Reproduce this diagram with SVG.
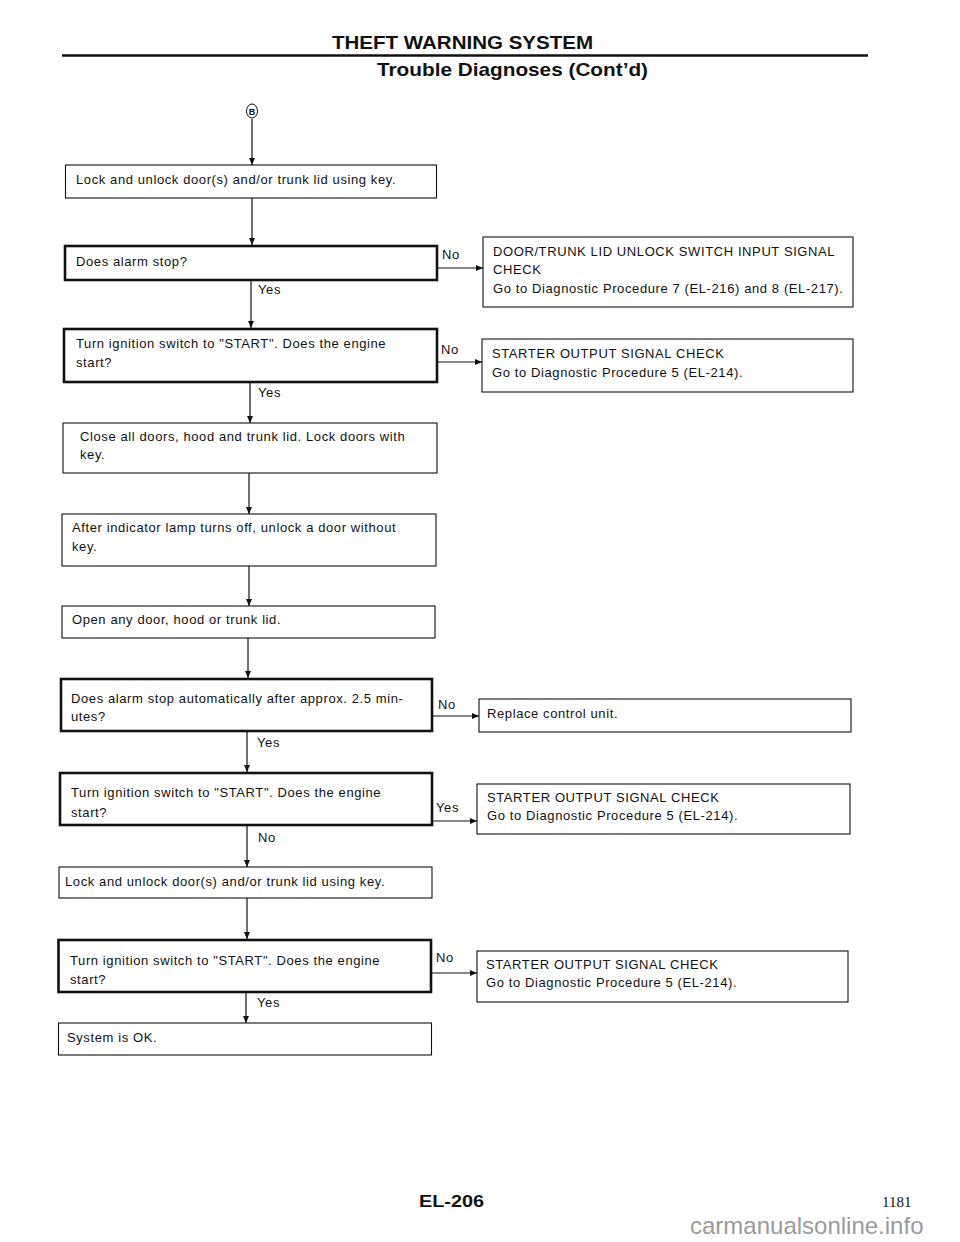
<svg xmlns="http://www.w3.org/2000/svg" width="960" height="1242" viewBox="0 0 960 1242">
<defs>
<style>
.t{font-family:"Liberation Sans",Arial,Helvetica,sans-serif;font-size:13px;letter-spacing:0.6px;fill:#111}
.box{fill:#fff;stroke:#111;stroke-width:1.1}
.dec{fill:#fff;stroke:#111;stroke-width:2.6}
.c{stroke:#111;stroke-width:1.2;fill:none;marker-end:url(#ah)}
.h{font-family:"Liberation Sans",Arial,Helvetica,sans-serif;font-weight:bold;fill:#111}
</style>
<marker id="ah" markerUnits="userSpaceOnUse" markerWidth="8" markerHeight="6" refX="7" refY="3" orient="auto">
<path d="M0,0 L7,3 L0,6 z" fill="#111"/>
</marker>
</defs>
<rect width="960" height="1242" fill="#fff"/>

<g id="header">
<text class="h" x="332" y="49" font-size="19" textLength="261" lengthAdjust="spacingAndGlyphs">THEFT WARNING SYSTEM</text>
<line x1="62" y1="55.5" x2="868" y2="55.5" stroke="#111" stroke-width="2.6"/>
<text class="h" x="377" y="76" font-size="19" textLength="271" lengthAdjust="spacingAndGlyphs">Trouble Diagnoses (Cont’d)</text>
</g>

<g id="start-B">
<ellipse cx="252" cy="111" rx="5.5" ry="7" fill="#fff" stroke="#111" stroke-width="1"/>
<text x="252" y="114.5" text-anchor="middle" font-family="Liberation Sans,Arial,sans-serif" font-size="9" font-weight="bold" fill="#111">B</text>
</g>

<g id="connectors">
<line class="c" x1="252" y1="119" x2="252" y2="165"/>
<line class="c" x1="252" y1="198" x2="252" y2="245"/>
<line class="c" x1="251" y1="281" x2="251" y2="328"/>
<line class="c" x1="250" y1="383" x2="250" y2="423"/>
<line class="c" x1="249" y1="473" x2="249" y2="514"/>
<line class="c" x1="249" y1="566" x2="249" y2="606"/>
<line class="c" x1="248" y1="638" x2="248" y2="678"/>
<line class="c" x1="247" y1="732" x2="247" y2="772"/>
<line class="c" x1="247" y1="826" x2="247" y2="867"/>
<line class="c" x1="247" y1="898" x2="247" y2="939"/>
<line class="c" x1="246" y1="993" x2="246" y2="1023"/>
<line class="c" x1="438" y1="268" x2="483" y2="268"/>
<line class="c" x1="438" y1="362" x2="482" y2="362"/>
<line class="c" x1="433" y1="716" x2="479" y2="716"/>
<line class="c" x1="433" y1="821" x2="477" y2="821"/>
<line class="c" x1="432" y1="973" x2="477" y2="973"/>
<text class="t" x="442" y="259">No</text>
<text class="t" x="258" y="294">Yes</text>
<text class="t" x="441" y="354">No</text>
<text class="t" x="258" y="397">Yes</text>
<text class="t" x="438" y="709">No</text>
<text class="t" x="257" y="747">Yes</text>
<text class="t" x="436" y="812">Yes</text>
<text class="t" x="258" y="842">No</text>
<text class="t" x="436" y="962">No</text>
<text class="t" x="257" y="1007">Yes</text>
</g>

<g id="n1">
<rect class="box" x="65.5" y="165" width="371" height="33"/>
<text class="t" x="76" y="184">Lock and unlock door(s) and/or trunk lid using key.</text>
</g>
<g id="n2">
<rect class="dec" x="65" y="246" width="372" height="34"/>
<text class="t" x="76" y="266">Does alarm stop?</text>
</g>
<g id="n3">
<rect class="dec" x="64" y="329" width="373" height="53"/>
<text class="t" x="76" y="348">Turn ignition switch to "START". Does the engine</text>
<text class="t" x="76" y="367">start?</text>
</g>
<g id="n4">
<rect class="box" x="63" y="423" width="374" height="50"/>
<text class="t" x="80" y="441">Close all doors, hood and trunk lid. Lock doors with</text>
<text class="t" x="80" y="459">key.</text>
</g>
<g id="n5">
<rect class="box" x="62" y="514" width="374" height="52"/>
<text class="t" x="72" y="532">After indicator lamp turns off, unlock a door without</text>
<text class="t" x="72" y="551">key.</text>
</g>
<g id="n6">
<rect class="box" x="62" y="606" width="373" height="32"/>
<text class="t" x="72" y="624">Open any door, hood or trunk lid.</text>
</g>
<g id="n7">
<rect class="dec" x="61" y="679" width="371" height="52"/>
<text class="t" x="71" y="703">Does alarm stop automatically after approx. 2.5 min-</text>
<text class="t" x="71" y="721">utes?</text>
</g>
<g id="n8">
<rect class="dec" x="60" y="773" width="372" height="52"/>
<text class="t" x="71" y="797">Turn ignition switch to "START". Does the engine</text>
<text class="t" x="71" y="817">start?</text>
</g>
<g id="n9">
<rect class="box" x="59" y="867" width="373" height="31"/>
<text class="t" x="65" y="886">Lock and unlock door(s) and/or trunk lid using key.</text>
</g>
<g id="n10">
<rect class="dec" x="58.5" y="940" width="372.5" height="52"/>
<text class="t" x="70" y="965">Turn ignition switch to "START". Does the engine</text>
<text class="t" x="70" y="984">start?</text>
</g>
<g id="n11">
<rect class="box" x="58.5" y="1023" width="373" height="32"/>
<text class="t" x="67" y="1042">System is OK.</text>
</g>

<g id="rA">
<rect class="box" x="483" y="237" width="370" height="70"/>
<text class="t" x="493" y="256">DOOR/TRUNK LID UNLOCK SWITCH INPUT SIGNAL</text>
<text class="t" x="493" y="274">CHECK</text>
<text class="t" x="493" y="293">Go to Diagnostic Procedure 7 (EL-216) and 8 (EL-217).</text>
</g>
<g id="rB">
<rect class="box" x="482" y="339" width="371" height="53"/>
<text class="t" x="492" y="358">STARTER OUTPUT SIGNAL CHECK</text>
<text class="t" x="492" y="377">Go to Diagnostic Procedure 5 (EL-214).</text>
</g>
<g id="rC">
<rect class="box" x="479" y="699" width="372" height="33"/>
<text class="t" x="487" y="718">Replace control unit.</text>
</g>
<g id="rD">
<rect class="box" x="477" y="784" width="373" height="50"/>
<text class="t" x="487" y="802">STARTER OUTPUT SIGNAL CHECK</text>
<text class="t" x="487" y="820">Go to Diagnostic Procedure 5 (EL-214).</text>
</g>
<g id="rE">
<rect class="box" x="477" y="951" width="371" height="51"/>
<text class="t" x="486" y="969">STARTER OUTPUT SIGNAL CHECK</text>
<text class="t" x="486" y="987">Go to Diagnostic Procedure 5 (EL-214).</text>
</g>

<g id="footer">
<text class="h" x="419" y="1207" font-size="17" textLength="65" lengthAdjust="spacingAndGlyphs">EL-206</text>
<text x="882" y="1207" font-family="Liberation Serif,Times New Roman,serif" font-size="15" fill="#111">1181</text>
<text x="690" y="1234" font-family="Liberation Sans,Arial,sans-serif" font-size="24" fill="#9a9a9a">carmanualsonline.info</text>
</g>
</svg>
